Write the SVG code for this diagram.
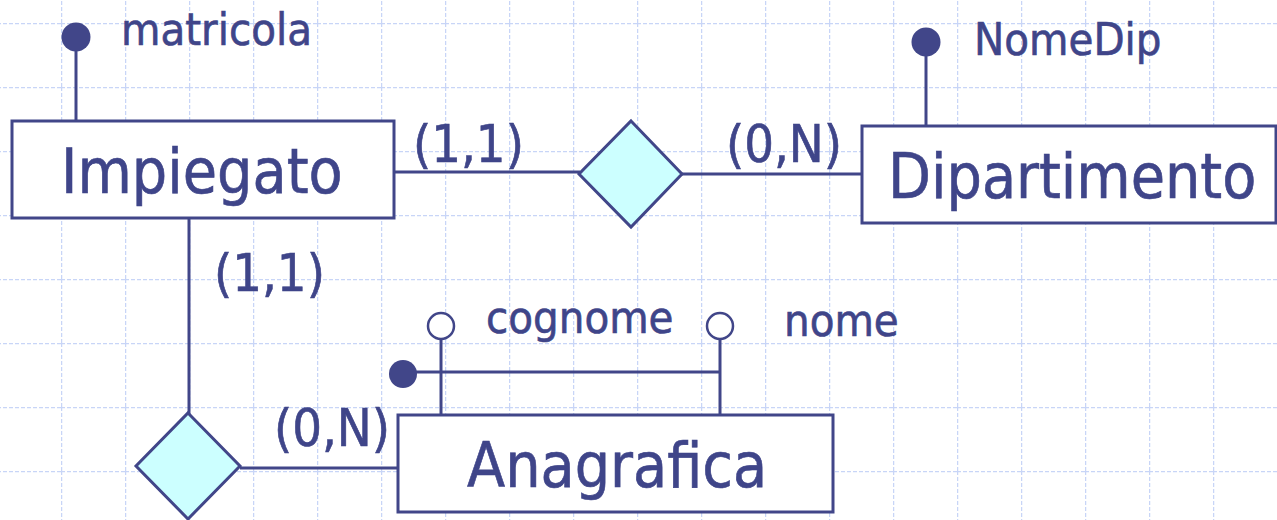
<svg xmlns="http://www.w3.org/2000/svg" width="1277" height="520" viewBox="0 0 1277 520">
<defs>
<pattern id="grid" x="61" y="23" width="64" height="64" patternUnits="userSpaceOnUse">
<path d="M0 0 H64 M0 0 V64" fill="none" stroke="#c8d5f7" stroke-width="2.5" stroke-dasharray="4 2"/>
</pattern>
</defs>
<style>
.ln{stroke:#414689;stroke-width:3;fill:none}
.ent{stroke:#414689;stroke-width:3;fill:#ffffff}
.rel{stroke:#414689;stroke-width:3;fill:#ccffff}
.kd{fill:#414689;stroke:none}
.od{fill:#ffffff;stroke:#414689;stroke-width:2.5}
text{font-family:"DejaVu Sans Condensed","DejaVu Sans",Tahoma,sans-serif;fill:#3f4589;font-stretch:condensed;stroke:#3f4589;stroke-width:0.6}
.big{font-size:62px}
.card{font-size:52px}
.attr{font-size:45px}
</style>
<rect x="0" y="0" width="1277" height="520" fill="#ffffff"/>
<rect x="0" y="0" width="1277" height="520" fill="url(#grid)"/>
<g id="connectors">
<line class="ln" x1="394" y1="172" x2="580" y2="172"/>
<line class="ln" x1="681" y1="174" x2="863" y2="174"/>
<line class="ln" x1="189" y1="218" x2="189" y2="414"/>
<line class="ln" x1="240" y1="468" x2="398" y2="468"/>
</g>
<g id="attr-matricola">
<line class="ln" x1="76" y1="37" x2="76" y2="121"/>
<circle class="kd" cx="76" cy="37" r="14.5"/>
<text class="attr" x="121" y="45">matricola</text>
</g>
<g id="attr-nomedip">
<line class="ln" x1="926" y1="42" x2="926" y2="126"/>
<circle class="kd" cx="926" cy="42" r="14.5"/>
<text class="attr" x="974" y="55">NomeDip</text>
</g>
<g id="attr-cognome-nome">
<line class="ln" x1="441" y1="339" x2="441" y2="414"/>
<line class="ln" x1="720" y1="339" x2="720" y2="414"/>
<line class="ln" x1="403" y1="372" x2="720" y2="372"/>
<circle class="kd" cx="403" cy="374" r="14"/>
<circle class="od" cx="441" cy="326" r="13"/>
<circle class="od" cx="720" cy="326" r="13"/>
<text class="attr" x="486" y="333">cognome</text>
<text class="attr" x="784" y="336">nome</text>
</g>
<g id="impiegato">
<rect class="ent" x="12" y="121" width="382" height="97"/>
<text class="big" x="61" y="193">Impiegato</text>
</g>
<g id="dipartimento">
<rect class="ent" x="862" y="126" width="414" height="97"/>
<text class="big" x="888" y="198">Dipartimento</text>
</g>
<g id="anagrafica">
<rect class="ent" x="398" y="415" width="435" height="97"/>
<text class="big" x="467" y="487">Anagrafica</text>
</g>
<g id="rel-afferenza">
<polygon class="rel" points="631,121 682,174 631,227 579,174"/>
</g>
<g id="rel-anagrafica">
<polygon class="rel" points="188,413 240,466 188,519 136,466"/>
</g>
<g id="cardinalities">
<text class="card" x="413" y="162">(1,1)</text>
<text class="card" x="726" y="162">(0,N)</text>
<text class="card" x="214" y="291">(1,1)</text>
<text class="card" x="274" y="446">(0,N)</text>
</g>
</svg>
